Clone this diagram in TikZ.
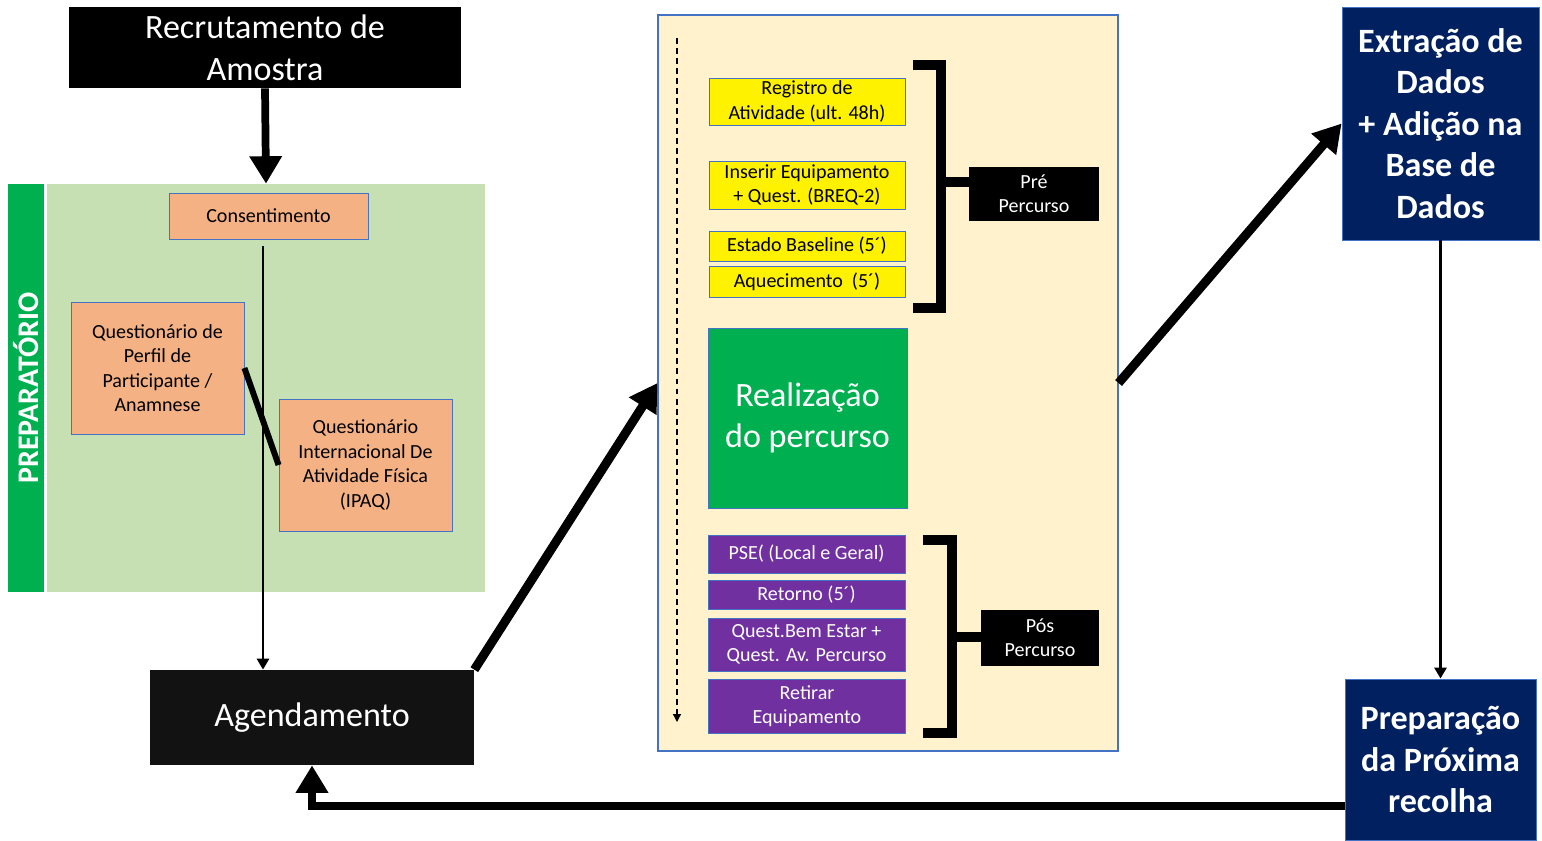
\documentclass[tikz,border=0pt]{standalone}
\usepackage{fontspec}
\setmainfont{Carlito}
\usepackage{tikz}
\usetikzlibrary{arrows.meta}
\definecolor{boxborder}{HTML}{4472C4}
\definecolor{lightgreen}{HTML}{C6E0B4}
\definecolor{darkgreen}{HTML}{00B050}
\definecolor{peach}{HTML}{F4B183}
\definecolor{cream}{HTML}{FFF2CC}
\definecolor{purplebox}{HTML}{7030A0}
\definecolor{navy}{HTML}{002060}
\newcommand{\smalltxt}{\fontsize{11.4}{13.9}\selectfont}
\newcommand{\bigtxt}{\fontsize{19.4}{23.7}\selectfont}
\tikzstyle{bigarrow}=[line width=5.1pt,-{Triangle[width=0.62cm,length=0.55cm]}]
\tikzstyle{thinarrow}=[line width=1.6pt,-{Triangle[width=0.24cm,length=0.22cm]}]

\begin{document}
\begin{tikzpicture}[x=0.02cm,y=-0.02cm]
    \tikzstyle{darkbox}=[rectangle,fill=black,text=white,inner sep=2pt,align=center,font=\bigtxt]
    \tikzstyle{navybox}=[rectangle,fill=navy,draw=boxborder,line width=0.5pt,text=white,inner sep=2pt,align=center,font=\bigtxt\bfseries]
    \tikzstyle{peachbox}=[rectangle,fill=peach,draw=boxborder,line width=0.5pt,inner sep=2pt,align=center,font=\smalltxt]
    \tikzstyle{yellowbox}=[rectangle,fill=yellow,draw=boxborder,line width=0.5pt,inner sep=1pt,align=center,font=\smalltxt,minimum width=3.92cm]
    \tikzstyle{purplebox}=[rectangle,fill=purplebox,draw=boxborder,line width=0.5pt,text=white,inner sep=1pt,align=center,font=\smalltxt,minimum width=3.94cm]
    \tikzstyle{tagbox}=[rectangle,fill=black,text=white,inner sep=2pt,align=center,font=\smalltxt]
    \tikzstyle{bracket}=[line width=5.6pt]

    \useasboundingbox (0,0) rectangle (1542,840);

    % backgrounds
    \node[fill=lightgreen,minimum width=8.76cm,minimum height=8.16cm] (prepbg) at (266,388) {};
    \node[fill=darkgreen,text=white,rotate=90,minimum width=8.16cm,minimum height=0.72cm,inner sep=0pt,font=\fontsize{17}{20}\selectfont\bfseries] (prepbar) at (26,388) {PREPARATÓRIO};
    \node[fill=cream,draw=boxborder,line width=0.7pt,minimum width=9.2cm,minimum height=14.72cm] (panel) at (888,383) {};

    % left column
    \node[darkbox,minimum width=7.84cm,minimum height=1.62cm] (recrut) at (265,47.5) {Recrutamento de\\Amostra};
    \node[peachbox,minimum width=3.98cm,minimum height=0.92cm] (consent) at (268.5,216) {Consentimento};
    \node[peachbox,minimum width=3.46cm,minimum height=2.64cm] (qperfil) at (157.5,368) {Questionário de\\Perfil de\\Participante /\\Anamnese};
    \node[peachbox,minimum width=3.46cm,minimum height=2.64cm] (ipaq) at (365.5,465) {Questionário\\Internacional De\\Atividade Física\\(IPAQ)};
    \node[darkbox,fill=black!93,minimum width=6.48cm,minimum height=1.9cm] (agenda) at (312,717.5) {Agendamento};

    % percurso panel
    \node[yellowbox,minimum height=0.94cm] (reg) at (807,101.5) {Registro de\\Atividade (ult. 48h)};
    \node[yellowbox,minimum height=0.96cm] (insere) at (807,185) {Inserir Equipamento\\+ Quest. (BREQ-2)};
    \node[yellowbox,minimum height=0.6cm] (baseline) at (807,246) {Estado Baseline (5´)};
    \node[yellowbox,minimum height=0.62cm] (aquec) at (807,281.5) {Aquecimento\ \ (5´)};
    \node[fill=darkgreen,draw=boxborder,line width=0.5pt,text=white,align=center,font=\bigtxt,minimum width=3.98cm,minimum height=3.6cm] (realiz) at (807.5,418) {Realização\\do percurso};
    \node[purplebox,minimum height=0.76cm] (pse) at (806.5,554) {PSE( (Local e Geral)};
    \node[purplebox,minimum height=0.58cm] (retorno) at (806.5,594.5) {Retorno (5´)};
    \node[purplebox,minimum height=1.06cm] (qbem) at (806.5,644.5) {Quest.Bem Estar +\\Quest. Av. Percurso};
    \node[purplebox,minimum height=1.08cm] (retirar) at (807,706) {Retirar\\Equipamento};
    \node[tagbox,minimum width=2.6cm,minimum height=1.08cm] (pre) at (1034,194) {Pré\\Percurso};
    \node[tagbox,minimum width=2.36cm,minimum height=1.12cm] (pos) at (1040,637.5) {Pós\\Percurso};

    % right column
    \node[navybox,minimum width=3.94cm,minimum height=4.66cm] (extr) at (1440.5,123.5) {Extração de\\Dados\\+ Adição na\\Base de\\Dados};
    \node[navybox,minimum width=3.82cm,minimum height=3.22cm] (prep) at (1440.5,759.5) {Preparação\\da Próxima\\recolha};

    % brackets
    \coordinate (prestem) at (941,182);
    \coordinate (posstem) at (952,637);
    \draw[bracket] (913,65) -| (941,308) -- (913,308);
    \draw[bracket] (prestem) -- (prestem -| pre.west);
    \draw[bracket] (923,540) -| (952,733) -- (923,733);
    \draw[bracket] (posstem) -- (posstem -| pos.west);

    % connectors
    \coordinate (c1) at (263,246);
    \coordinate (dtop) at (677,38);
    \coordinate (dbot) at (677,722);
    \coordinate (back) at (1345,806);
    \draw[bigarrow,line width=4.4pt] (recrut.south) -- (prepbg.north);
    \draw[thinarrow] (c1) -- (c1 |- agenda.north);
    \draw[line width=3.4pt] (qperfil.east) -- (ipaq.west);
    \draw[line width=0.7pt,dash pattern=on 3.4pt off 2.3pt,-{Triangle[width=0.16cm,length=0.16cm]}] (dtop) -- (dbot);
    \draw[bigarrow] (agenda.north east) -- (panel.west);
    \draw[bigarrow] (panel.east) -- (extr.west);
    \draw[thinarrow] (extr.south) -- (prep.north);
    \draw[bigarrow] (back) -| (agenda.south);
\end{tikzpicture}
\end{document}
